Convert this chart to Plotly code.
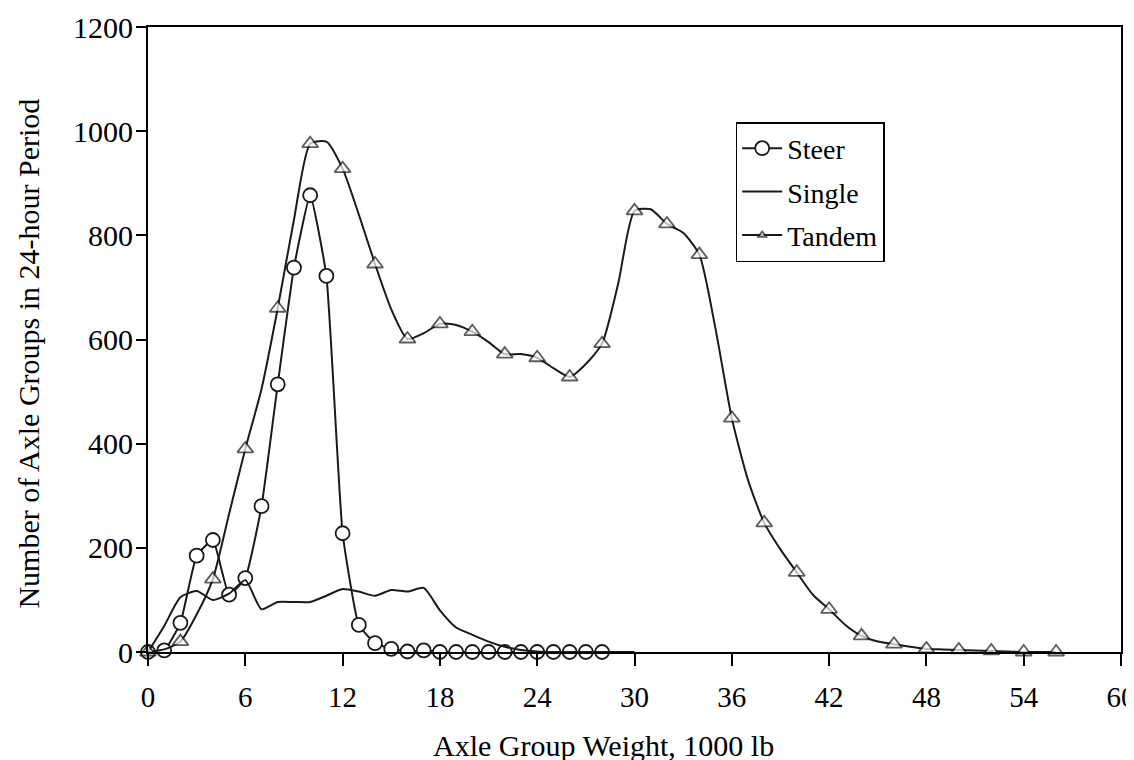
import plotly.graph_objects as go

# ---- data ----
steer_x = list(range(0, 29))
steer_y = [0, 3, 56, 185, 215, 110, 142, 280, 514, 738, 877, 722, 228, 52, 17, 6,
           1, 3, 0, 0, 0, 0, 0, 0, 0, 0, 0, 0, 0]

single_x = list(range(0, 31))
single_y = [0, 50, 105, 117, 100, 112, 138, 82, 96, 96, 96, 108, 121, 116, 108, 119,
            116, 123, 80, 47, 33, 20, 10, 4, 1, 0, 0, 0, 0, 0, 0]

tandem_x = list(range(0, 57))
tandem_y = [0, 5, 20, 72, 140, 265, 390, 505, 660, 830, 976, 980, 928, 840, 745, 658,
            601, 612, 630, 628, 615, 595, 572, 572, 565, 545, 528, 553, 592, 708, 847, 850,
            822, 805, 763, 620, 449, 330, 248, 197, 153, 110, 82, 52, 31, 20, 15, 10,
            6, 5, 4, 3, 2, 1, 0, 0, 0]

x_ticks = [0, 6, 12, 18, 24, 30, 36, 42, 48, 54, 60]
y_ticks = [0, 200, 400, 600, 800, 1000, 1200]

x_title = "Axle Group Weight, 1000 lb"
y_title = "Number of Axle Groups in 24-hour Period"

FONT = "Liberation Serif, Times New Roman, serif"
LINE = "#1a1a1a"
FS = 30

tandem_sizes = [14 if v % 2 == 0 else 0 for v in tandem_x]

fig = go.Figure()
fig.add_trace(go.Scatter(
    x=steer_x, y=steer_y, name="Steer", mode="lines+markers",
    line=dict(color=LINE, width=2, shape="spline", smoothing=0.4),
    marker=dict(symbol="circle", size=14, color="white", line=dict(color=LINE, width=1.8)),
    legendgroup="a", cliponaxis=False,
))
fig.add_trace(go.Scatter(
    x=single_x, y=single_y, name="Single", mode="lines",
    line=dict(color=LINE, width=2, shape="spline", smoothing=0.6),
    legendgroup="b", cliponaxis=False,
))
fig.add_trace(go.Scatter(
    x=tandem_x, y=tandem_y, name="Tandem", mode="lines+markers",
    line=dict(color=LINE, width=2, shape="spline", smoothing=0.6),
    marker=dict(symbol="triangle-up", size=tandem_sizes, color="white",
                line=dict(color=LINE, width=1.8)),
    legendgroup="c", cliponaxis=False,
))

fig.update_layout(
    width=1126, height=760,
    margin=dict(l=140, r=13, t=19, b=116),
    paper_bgcolor="white", plot_bgcolor="white",
    font=dict(family=FONT, size=FS, color="black"),
    showlegend=True,
    legend=dict(
        x=0.604, y=0.848, xanchor="left", yanchor="top",
        bgcolor="white", bordercolor="black", borderwidth=1.5,
        font=dict(family=FONT, size=FS - 2, color="black"),
        traceorder="grouped", tracegroupgap=4,
        itemwidth=40,
    ),
    xaxis=dict(
        range=[0, 60], tickvals=x_ticks, ticktext=[str(v) for v in x_ticks],
        automargin=False, ticklabeloverflow="allow",
        showgrid=False, zeroline=False,
        showline=True, linecolor="black", linewidth=2, mirror=True,
        ticks="outside", ticklen=12, tickwidth=2, tickcolor="black",
        ticklabelstandoff=6,
        tickfont=dict(family=FONT, size=FS - 1, color="black"),
    ),
    yaxis=dict(
        range=[0, 1200], tickvals=y_ticks, ticktext=[str(v) for v in y_ticks],
        automargin=False, ticklabeloverflow="allow",
        showgrid=False, zeroline=False,
        showline=True, linecolor="black", linewidth=2, mirror=True,
        ticks="outside", ticklen=10, tickwidth=2, tickcolor="black",
        ticklabelstandoff=-3,
        tickfont=dict(family=FONT, size=FS, color="black"),
    ),
    annotations=[
        dict(text=x_title, xref="paper", yref="paper", x=0.468, y=-0.149,
             xanchor="center", yanchor="middle", showarrow=False,
             font=dict(family=FONT, size=FS, color="black")),
        dict(text=y_title, xref="paper", yref="paper", x=-0.123, y=0.478,
             xanchor="center", yanchor="middle", showarrow=False, textangle=-90,
             font=dict(family=FONT, size=FS, color="black")),
    ],
)

fig.write_html("out.html")
